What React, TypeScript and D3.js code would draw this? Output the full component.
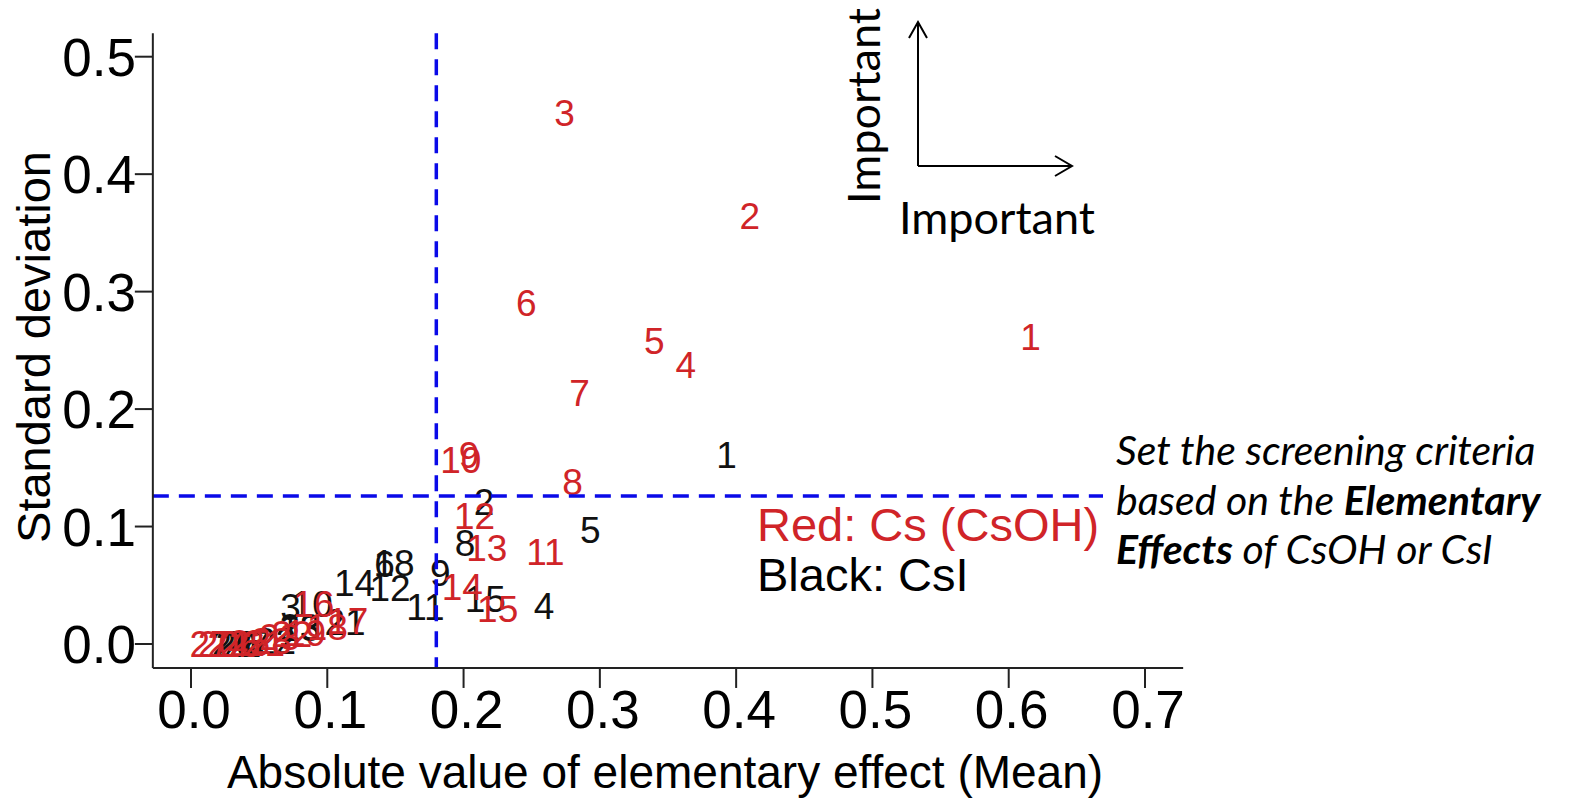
import React from 'react';
import * as d3 from 'd3';

// Elementary-effects screening: |mean| vs standard deviation
const redLabels = ['1', '2', '3', '4', '5', '6', '7', '8', '9', '10', '11', '12', '13', '14', '15', '16', '17', '18', '19', '20', '21', '22', '23', '24', '25', '26', '27', '28'];
const redMean = [0.616, 0.41, 0.274, 0.363, 0.34, 0.246, 0.285, 0.28, 0.204, 0.198, 0.26, 0.208, 0.217, 0.199, 0.225, 0.09, 0.115, 0.1, 0.084, 0.02, 0.054, 0.074, 0.065, 0.027, 0.043, 0.036, 0.014, 0.059];
const redSd = [0.262, 0.365, 0.452, 0.238, 0.258, 0.291, 0.214, 0.138, 0.161, 0.157, 0.079, 0.109, 0.082, 0.049, 0.03, 0.034, 0.02, 0.015, 0.01, 0.0, 0.001, 0.009, 0.006, 0.0, 0.001, 0.0, 0.0, 0.003];

const blackLabels = ['1', '2', '3', '4', '5', '6', '8', '9', '10', '11', '12', '13', '14', '15', '18', '20', '21', '22', '23', '24', '26', '27'];
const blackMean = [0.393, 0.215, 0.073, 0.259, 0.293, 0.142, 0.201, 0.183, 0.089, 0.172, 0.146, 0.08, 0.12, 0.216, 0.149, 0.033, 0.113, 0.062, 0.08, 0.03, 0.039, 0.043];
const blackSd = [0.161, 0.121, 0.032, 0.033, 0.097, 0.068, 0.086, 0.061, 0.034, 0.032, 0.048, 0.014, 0.052, 0.039, 0.069, 0.0, 0.019, 0.003, 0.015, 0.0, 0.0, 0.0];

const xTicks = [0, 0.1, 0.2, 0.3, 0.4, 0.5, 0.6, 0.7];
const yTicks = [0, 0.1, 0.2, 0.3, 0.4, 0.5];
const xLim = [-0.028, 0.728];
const yLim = [-0.0204, 0.52];
const meanCut = 0.18;
const sdCut = 0.126;

const RED = '#d02428';
const BLUE = '#0a0ae8';

export default function App() {
  const width = 1569;
  const height = 799;
  const x = d3.scaleLinear().domain([0, 0.7]).range([191, 1145]);
  const y = d3.scaleLinear().domain([0, 0.5]).range([644, 56.7]);

  const left = x(xLim[0]);
  const right = x(xLim[1]);
  const top = y(yLim[1]);
  const bottom = y(yLim[0]);
  const arial = 'Liberation Sans, Arial, sans-serif';
  const calibri = 'Lato, Open Sans, sans-serif';

  return (
    <svg width={width} height={height} style={{ position: 'absolute', left: 0, top: 0, background: '#fff' }}>
      {/* point labels */}
      <g fontFamily={arial} fontSize={37} textAnchor="middle">
        {blackLabels.map((l, i) => (
          <text key={'b' + i} x={x(blackMean[i])} y={y(blackSd[i])} dy="0.36em" fill="#111">{l}</text>
        ))}
        {redLabels.map((l, i) => (
          <text key={'r' + i} x={x(redMean[i])} y={y(redSd[i])} dy="0.36em" fill={RED}>{l}</text>
        ))}
      </g>

      {/* screening thresholds */}
      <line x1={x(meanCut)} x2={x(meanCut)} y1={top} y2={bottom} stroke={BLUE} strokeWidth={3.5} strokeDasharray="16 10" />
      <line x1={left} x2={right} y1={y(sdCut)} y2={y(sdCut)} stroke={BLUE} strokeWidth={3.5} strokeDasharray="16 10" />

      {/* axes */}
      <g stroke="#222" strokeWidth={2}>
        <line x1={left} x2={left} y1={top} y2={bottom} />
        <line x1={left} x2={right} y1={bottom} y2={bottom} />
        {xTicks.map(t => <line key={'xt' + t} x1={x(t)} x2={x(t)} y1={bottom} y2={bottom + 20} />)}
        {yTicks.map(t => <line key={'yt' + t} x1={left} x2={left - 18} y1={y(t)} y2={y(t)} />)}
      </g>
      <g fontFamily={arial} fontSize={53} fill="#000">
        {xTicks.map(t => (
          <text key={'xl' + t} x={x(t) + 3} y={728} textAnchor="middle">{d3.format('.1f')(t)}</text>
        ))}
        {yTicks.map(t => (
          <text key={'yl' + t} x={136} y={y(t)} dy="0.36em" textAnchor="end">{d3.format('.1f')(t)}</text>
        ))}
      </g>
      <text x={665} y={788} textAnchor="middle" fontFamily={arial} fontSize={46}>Absolute value of elementary effect (Mean)</text>
      <text transform="translate(50,347) rotate(-90)" textAnchor="middle" fontFamily={arial} fontSize={47}>Standard deviation</text>

      {/* legend */}
      <text x={757} y={541} fontFamily={arial} fontSize={47} fill={RED}>Red: Cs (CsOH)</text>
      <text x={757} y={591} fontFamily={arial} fontSize={47} fill="#000">Black: CsI</text>

      {/* importance arrows */}
      <g stroke="#000" strokeWidth={2} fill="none">
        <path d="M918,166V22M909,38L918,22L927,38" />
        <path d="M918,166H1072M1055,156L1072,166L1055,176" />
      </g>
      <text transform="translate(880,204) rotate(-90)" fontFamily={calibri} fontSize={45}>Important</text>
      <text x={899} y={234} fontFamily={calibri} fontSize={45}>Important</text>

      {/* annotation box (covers the end of the threshold line) */}
      <rect x={1103} y={425} width={466} height={160} fill="#fff" />
      <g fontFamily={calibri} fontSize={41} fontStyle="italic" fill="#000">
        <text x={1116} y={465}>Set the screening criteria</text>
        <text x={1116} y={515}>based on the <tspan fontWeight="bold">Elementary</tspan></text>
        <text x={1116} y={564}><tspan fontWeight="bold">Effects</tspan> of CsOH or CsI</text>
      </g>
    </svg>
  );
}
